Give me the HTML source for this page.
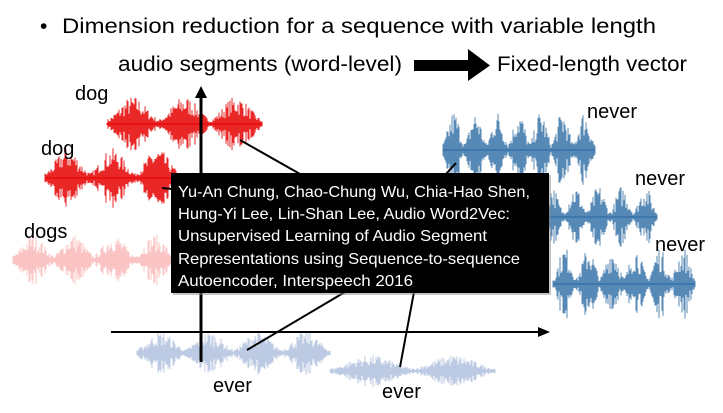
<!DOCTYPE html>
<html><head><meta charset="utf-8"><style>
html,body{margin:0;padding:0;background:#fff;width:723px;height:413px;overflow:hidden}
svg{display:block}
text{font-family:"Liberation Sans",sans-serif}
</style></head><body>
<svg id="s" width="723" height="413" viewBox="0 0 723 413" xmlns="http://www.w3.org/2000/svg">
<g id="waves"></g>
<text x="40" y="33" font-size="21" fill="#000">•</text>
<text x="62" y="33" font-size="21" fill="#000" textLength="594" lengthAdjust="spacingAndGlyphs">Dimension reduction for a sequence with variable length</text>
<text x="118" y="71" font-size="21" fill="#000" textLength="284" lengthAdjust="spacingAndGlyphs">audio segments (word-level)</text>
<polygon points="414,60 468,60 468,49 490,65.5 468,81 468,71 414,71" fill="#000"/>
<text x="497" y="71" font-size="21" fill="#000" textLength="190" lengthAdjust="spacingAndGlyphs">Fixed-length vector</text>
<line x1="201" y1="96" x2="201" y2="362" stroke="#000" stroke-width="3"/>
<polygon points="201,86 195,98 207,98" fill="#000"/>
<line x1="111" y1="332" x2="540" y2="332" stroke="#000" stroke-width="2"/>
<polygon points="550,332 538,327 538,337" fill="#000"/>
<line x1="240" y1="140" x2="300" y2="174" stroke="#000" stroke-width="2"/>
<line x1="162" y1="188" x2="172" y2="189" stroke="#000" stroke-width="2"/>
<line x1="456" y1="163" x2="446" y2="174" stroke="#000" stroke-width="2"/>
<line x1="247" y1="350" x2="345" y2="292" stroke="#000" stroke-width="2"/>
<line x1="400" y1="367" x2="414" y2="292" stroke="#000" stroke-width="2"/>
<text x="75" y="100" font-size="20" fill="#000">dog</text>
<text x="41" y="155" font-size="20" fill="#000">dog</text>
<text x="24" y="238" font-size="20" fill="#000">dogs</text>
<text x="587" y="118" font-size="20" fill="#000">never</text>
<text x="635" y="185" font-size="20" fill="#000">never</text>
<text x="655" y="251" font-size="20" fill="#000">never</text>
<text x="213" y="392" font-size="20" fill="#000">ever</text>
<text x="382" y="398" font-size="20" fill="#000">ever</text>
<rect x="173" y="175" width="378" height="120" fill="#888" opacity="0.5"/>
<rect x="171" y="173" width="378" height="120" fill="#000"/>
<g font-size="16" fill="#fff">
<text x="178" y="197" textLength="352" lengthAdjust="spacingAndGlyphs">Yu-An Chung, Chao-Chung Wu, Chia-Hao Shen,</text>
<text x="178" y="219" textLength="332" lengthAdjust="spacingAndGlyphs">Hung-Yi Lee, Lin-Shan Lee, Audio Word2Vec:</text>
<text x="178" y="241" textLength="309" lengthAdjust="spacingAndGlyphs">Unsupervised Learning of Audio Segment</text>
<text x="178" y="264" textLength="342" lengthAdjust="spacingAndGlyphs">Representations using Sequence-to-sequence</text>
<text x="178" y="286" textLength="235" lengthAdjust="spacingAndGlyphs">Autoencoder, Interspeech 2016</text>
</g>
</svg>
<script>
(function(){
var seed=7;function r(){seed=(seed*16807)%2147483647;return seed/2147483647;}
var g=document.getElementById('waves');
function wave(x0,x1,cy,amp,color,bursts,opacity){
  var d='';
  for(var x=x0;x<=x1;x+=1){
    var t=(x-x0)/(x1-x0);
    var env=0.1;
    for(var i=0;i<bursts;i++){
      var c=(i+0.5)/bursts;var w=0.45/bursts;
      var v=Math.exp(-Math.pow((t-c)/w,2)*1.5);
      if(v>env)env=v;
    }
    var q=r();
    var a=amp*env*(0.3+0.7*q);
    d+='M'+x+' '+(cy-a).toFixed(1)+'V'+(cy+a).toFixed(1);
  }
  var p=document.createElementNS('http://www.w3.org/2000/svg','path');
  p.setAttribute('d',d);p.setAttribute('stroke',color);p.setAttribute('stroke-width','1');
  p.setAttribute('opacity',opacity);g.appendChild(p);
  var l=document.createElementNS('http://www.w3.org/2000/svg','line');
  l.setAttribute('x1',x0);l.setAttribute('x2',x1);l.setAttribute('y1',cy);l.setAttribute('y2',cy);
  l.setAttribute('stroke',color);l.setAttribute('stroke-width','2');l.setAttribute('opacity',opacity);g.appendChild(l);
}
wave(107,262,124,28,'#e81010',3,0.9);
wave(45,180,178,30,'#e81010',3,0.9);
wave(13,175,260,26,'#fbc4c4',4,1);
wave(443,595,150,40,'#3a75aa',7,0.85);
wave(470,657,217,32,'#3a75aa',8,0.85);
wave(553,695,284,38,'#3a75aa',6,0.85);
wave(137,330,353,22,'#bccbe3',4,1);
wave(330,495,371,16,'#bccbe3',2,1);
})();
</script>
</body></html>
